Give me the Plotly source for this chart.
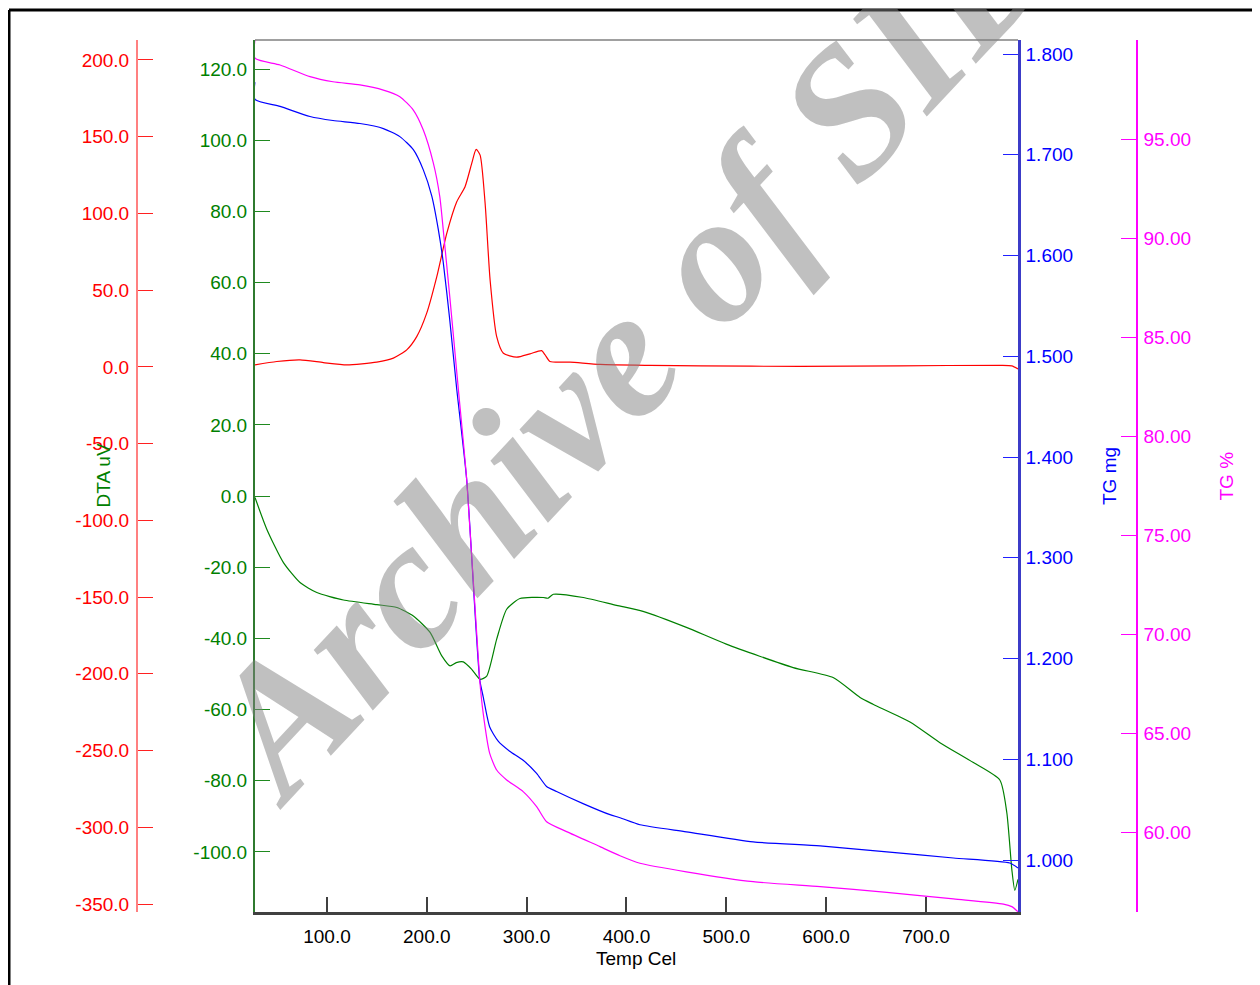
import plotly.graph_objects as go

# ---------------- data ----------------
temp_red = [27.9, 49.7, 73.0, 96.4, 119.8, 149.9, 166.5, 179.9, 189.9, 199.9, 210.0, 220.0,
            230.0, 238.3, 245.0, 249.4, 253.4, 258.4, 263.4, 270.0, 276.7, 290.0, 303.4,
            315.0, 318.5, 323.4, 343.5, 373.5, 423.6, 473.7, 573.9, 674.0, 774.2, 786.0, 792.2]
red_vals = [1.3, 3.5, 4.6, 2.8, 1.3, 3.1, 5.7, 11.1, 19.7, 35.0, 58.8, 87.0,
            107.6, 117.4, 132.6, 141.7, 138.0, 106.6, 56.6, 19.7, 8.9, 6.3, 8.5,
            10.6, 7.8, 3.5, 3.1, 1.6, 1.0, 0.7, 0.3, 0.7, 1.0, 0.7, -1.3]

temp_dta = [27.9, 39.7, 56.4, 73.0, 89.8, 116.5, 150.0, 170.0, 186.5, 203.3, 215.0, 223.3,
            229.5, 236.6, 245.0, 253.4, 260.0, 270.0, 280.0, 293.3, 316.7, 321.5, 326.7,
            356.7, 390.0, 416.6, 460.0, 500.0, 567.0, 607.0, 634.0, 647.0, 684.0, 714.0,
            747.5, 774.0, 781.0, 786.0, 789.0, 792.2]
dta_uv = [-0.4, -9.3, -18.7, -24.3, -27.1, -29.2, -30.5, -31.3, -33.7, -38.3, -44.9, -47.7,
          -46.8, -46.6, -48.7, -51.5, -50.6, -40.2, -31.8, -28.8, -28.5, -28.7, -27.6,
          -28.5, -30.7, -32.4, -36.9, -41.6, -48.2, -51.0, -56.6, -58.5, -63.5, -69.3,
          -74.9, -79.8, -89.0, -104.9, -110.8, -107.7]

temp_tg = [27.8, 27.9, 53.0, 83.0, 106.0, 133.0, 156.5, 173.0, 186.5, 196.5, 205.0, 211.5,
           216.5, 223.0, 229.8, 240.0, 253.0, 256.5, 263.0, 271.5, 283.0, 296.5, 310.0,
           320.0, 330.0, 356.5, 383.5, 393.5, 413.5, 460.0, 527.0, 594.0, 660.8, 727.5,
           784.0, 792.2]
tg_mg = [1.772, 1.755, 1.748, 1.738, 1.734, 1.731, 1.726, 1.718, 1.705, 1.685, 1.659, 1.626,
         1.593, 1.536, 1.469, 1.377, 1.179, 1.162, 1.132, 1.118, 1.108, 1.099, 1.086,
         1.073, 1.068, 1.056, 1.045, 1.042, 1.035, 1.028, 1.018, 1.014, 1.008, 1.002,
         0.997, 0.992]

temp_tgp = [27.8, 27.9, 53.0, 83.0, 106.0, 133.0, 156.5, 173.0, 186.5, 196.5, 206.5, 213.0,
            216.5, 223.0, 231.5, 240.0, 253.0, 256.5, 263.0, 270.0, 280.0, 296.5, 310.0,
            320.0, 340.0, 373.5, 393.5, 413.5, 460.0, 527.0, 594.0, 660.8, 727.5, 777.6,
            786.0, 792.2]
tg_pct = [100.0, 99.08, 98.74, 98.15, 97.89, 97.73, 97.47, 97.14, 96.46, 95.45, 93.79, 92.09,
          90.40, 87.04, 82.42, 77.78, 67.68, 65.99, 63.97, 63.13, 62.63, 62.04, 61.28,
          60.52, 60.02, 59.26, 58.80, 58.42, 57.99, 57.49, 57.24, 56.95, 56.62, 56.36,
          56.23, 55.97]

x_ticks = [100, 200, 300, 400, 500, 600, 700]
x_labels = ["100.0", "200.0", "300.0", "400.0", "500.0", "600.0", "700.0"]
red_ticks = [200, 150, 100, 50, 0, -50, -100, -150, -200, -250, -300, -350]
red_labels = ["200.0", "150.0", "100.0", "50.0", "0.0", "-50.0", "-100.0", "-150.0",
              "-200.0", "-250.0", "-300.0", "-350.0"]
dta_ticks = [120, 100, 80, 60, 40, 20, 0, -20, -40, -60, -80, -100]
dta_labels = ["120.0", "100.0", "80.0", "60.0", "40.0", "20.0", "0.0", "-20.0", "-40.0",
              "-60.0", "-80.0", "-100.0"]
mg_ticks = [1.8, 1.7, 1.6, 1.5, 1.4, 1.3, 1.2, 1.1, 1.0]
mg_labels = ["1.800", "1.700", "1.600", "1.500", "1.400", "1.300", "1.200", "1.100", "1.000"]
pct_ticks = [95, 90, 85, 80, 75, 70, 65, 60]
pct_labels = ["95.00", "90.00", "85.00", "80.00", "75.00", "70.00", "65.00", "60.00"]

# ---------------- layout geometry ----------------
# the page body has an 8 px margin, so the figure is drawn 8 px in from the corner
OFF = 8
W, H = 1260 - OFF, 985 - OFF
ML, MR, MT, MB = 12, 12, 40 - OFF, 73
PW = W - ML - MR
PH = H - MT - MB


def fx(p):
    return (p - OFF - ML) / PW


def fy(p):
    return (H - MB - (p - OFF)) / PH


FONT = "Liberation Sans, Arial, sans-serif"
FS = 19
RED, GREEN, BLUE, MAG = "#ff0000", "#008000", "#0000ff", "#ff00ff"

fig = go.Figure()
fig.add_trace(go.Scatter(x=temp_red, y=red_vals, yaxis="y2", mode="lines",
                         line=dict(color=RED, width=1.2, shape="spline", smoothing=0.6)))
fig.add_trace(go.Scatter(x=temp_dta, y=dta_uv, yaxis="y", mode="lines",
                         line=dict(color=GREEN, width=1.2, shape="spline", smoothing=0.6)))
fig.add_trace(go.Scatter(x=temp_tg, y=tg_mg, yaxis="y3", mode="lines",
                         line=dict(color=BLUE, width=1.2, shape="spline", smoothing=0.6)))
fig.add_trace(go.Scatter(x=temp_tgp, y=tg_pct, yaxis="y4", mode="lines",
                         line=dict(color=MAG, width=1.2, shape="spline", smoothing=0.6)))

common = dict(showgrid=False, zeroline=False, showline=True, ticks="inside", ticklen=15,
              tickmode="array")

fig.update_layout(
    width=W, height=H,
    margin=dict(l=ML, r=MR, t=MT, b=MB, autoexpand=False),
    paper_bgcolor="white", plot_bgcolor="white",
    showlegend=False,
    font=dict(family=FONT, size=FS),
    xaxis=dict(domain=[fx(255), fx(1018)], range=[27.9, 792.2], anchor="y",
               tickvals=x_ticks, ticktext=x_labels, tickfont=dict(color="black", size=FS),
               linecolor="#404040", linewidth=3, tickcolor="#404040", tickwidth=2,
               ticklabelstandoff=5, **common),
    yaxis=dict(range=[-116.9, 128.2], anchor="x", side="left",
               tickvals=dta_ticks, ticktext=dta_labels, tickfont=dict(color=GREEN, size=FS),
               linecolor="#2f7a2f", linewidth=2, tickcolor="#1f8a1f", tickwidth=1.3,
               ticklabelstandoff=2, **common),
    yaxis2=dict(range=[-355.2, 213.0], overlaying="y", anchor="free", position=fx(137),
                side="left", tickvals=red_ticks, ticktext=red_labels,
                tickfont=dict(color=RED, size=FS),
                linecolor="#ff8080", linewidth=2, tickcolor="#ff2020", tickwidth=1.3,
                ticklabelstandoff=3, **common),
    yaxis3=dict(range=[0.9484, 1.8139], overlaying="y", anchor="x", side="right",
                tickvals=mg_ticks, ticktext=mg_labels, tickfont=dict(color=BLUE, size=FS),
                linecolor="#3c3cc8", linewidth=2.5, tickcolor="#2020ff", tickwidth=1.3,
                ticklabelstandoff=1, **common),
    yaxis4=dict(range=[55.96, 100.0], overlaying="y", anchor="free", position=fx(1137),
                side="right", tickvals=pct_ticks, ticktext=pct_labels,
                tickfont=dict(color=MAG, size=FS),
                linecolor=MAG, linewidth=1.5, tickcolor=MAG, tickwidth=1.3,
                ticklabelstandoff=2, **common),
)

annotations = [
    dict(text="DTA uV", x=fx(102.5), y=fy(476), textangle=-90, font=dict(color=GREEN, size=FS)),
    dict(text="TG mg", x=fx(1109), y=fy(476), textangle=-90, font=dict(color=BLUE, size=FS)),
    dict(text="TG %", x=fx(1225.5), y=fy(476), textangle=-90, font=dict(color=MAG, size=FS)),
    dict(text="Temp Cel", x=fx(636.5), y=fy(958), font=dict(color="black", size=FS)),
    dict(text="Archive of SID", x=fx(628), y=fy(346), textangle=-47,
         font=dict(family="Liberation Serif, Times New Roman, serif", size=184,
                   color="rgba(130,130,130,0.5)", weight="bold", style="italic")),
]
for a in annotations:
    a.update(xref="paper", yref="paper", showarrow=False, xanchor="center", yanchor="middle")
fig.update_layout(annotations=annotations)

shapes = [
    # top border of plot area
    dict(type="line", xref="paper", yref="paper", x0=fx(255), x1=fx(1018), y0=1, y1=1,
         line=dict(color="#808080", width=1.5)),
    # outer black frame (top and left edges)
    dict(type="line", xref="paper", yref="paper", x0=fx(9), x1=fx(1265), y0=fy(10), y1=fy(10),
         line=dict(color="black", width=3)),
    dict(type="line", xref="paper", yref="paper", x0=fx(9), x1=fx(9), y0=fy(10), y1=fy(995),
         line=dict(color="black", width=3)),
]
fig.update_layout(shapes=shapes)

fig.write_html("out.html")
